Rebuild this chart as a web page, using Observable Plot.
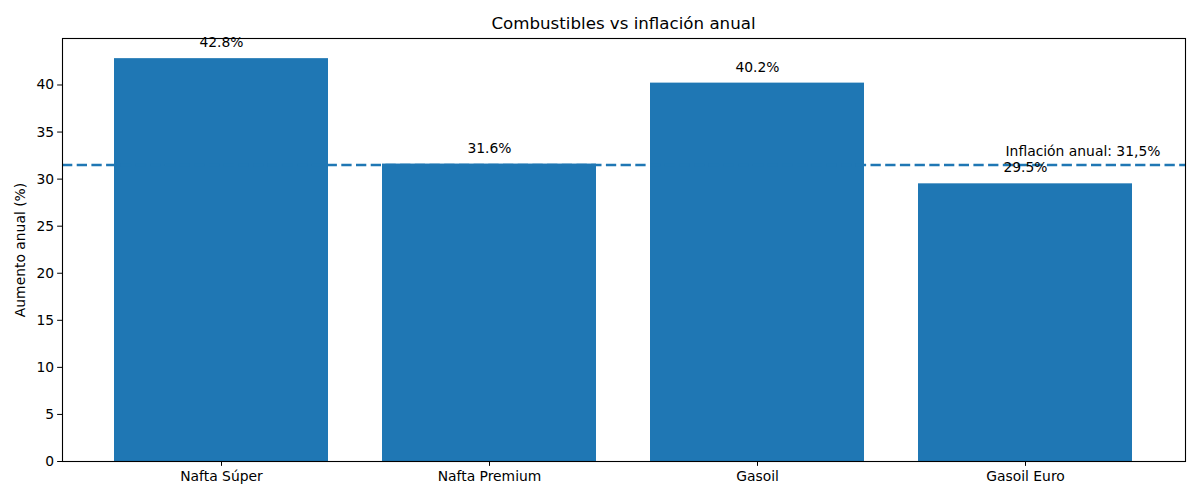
<!DOCTYPE html>
<html>
<head>
<meta charset="utf-8">
<script src="https://cdn.jsdelivr.net/npm/d3@7"></script>
<script src="https://cdn.jsdelivr.net/npm/@observablehq/plot@0.6"></script>
<style>
  body { margin: 0; background: #fff; font-family: "DejaVu Sans", sans-serif; }
  #wrap { width: 1200px; height: 500px; position: relative; }
  #title { position: absolute; left: 62px; width: 1123px; top: 16px; text-align: center;
    font-size: 16.67px; line-height: 16.67px; color: #000; z-index: 2; }
  #chart { position: absolute; left: 0; top: 0; }
</style>
</head>
<body>
<div id="wrap">
  <div id="chart"></div>
  <div id="title">Combustibles vs inflación anual</div>
</div>
<script>
const categories = ["Nafta Súper", "Nafta Premium", "Gasoil", "Gasoil Euro"];
const increases = [42.8, 31.6, 40.2, 29.5];
const inflation = 31.5;
const inflationLabel = "Inflación anual: 31,5%";
const yTicks = [0, 5, 10, 15, 20, 25, 30, 35, 40];

const data = categories.map((c, i) => ({category: c, value: increases[i]}));
const blue = "#1f77b4";
const fs = 13.89;

const chart = Plot.plot({
  width: 1200,
  height: 500,
  marginLeft: 62,
  marginRight: 15,
  marginTop: 38,
  marginBottom: 39,
  style: {fontFamily: "DejaVu Sans, sans-serif", fontSize: fs + "px", color: "#000", background: "#fff", overflow: "visible"},
  x: {domain: categories, paddingInner: 0.2, paddingOuter: 0.19, align: 0.5},
  y: {domain: [0, 44.94]},
  marks: [
    Plot.barY(data, {x: "category", y: "value", fill: blue}),
    Plot.ruleY([inflation], {stroke: blue, strokeWidth: 2.5, strokeDasharray: "10.3,4.4"}),
    Plot.frame({stroke: "#000", strokeWidth: 1.1}),
    Plot.text(data, {x: "category", y: "value", text: d => d.value.toFixed(1) + "%", dy: -16, fill: "#000", fontSize: fs}),
    Plot.text([inflationLabel], {x: () => categories[3], y: () => inflation, text: d => d, textAnchor: "start", dx: -20, dy: -13.5, fill: "#000", fontSize: fs}),
    Plot.axisY({ticks: yTicks, tickSize: 4.86, tickPadding: 3.5, label: "Aumento anual (%)", labelAnchor: "center", labelArrow: "none", labelOffset: 47, fontSize: fs}),
    Plot.axisX({tickSize: 4.86, tickPadding: 5, label: null, fontSize: fs})
  ]
});
document.getElementById("chart").appendChild(chart);
</script>
</body>
</html>
